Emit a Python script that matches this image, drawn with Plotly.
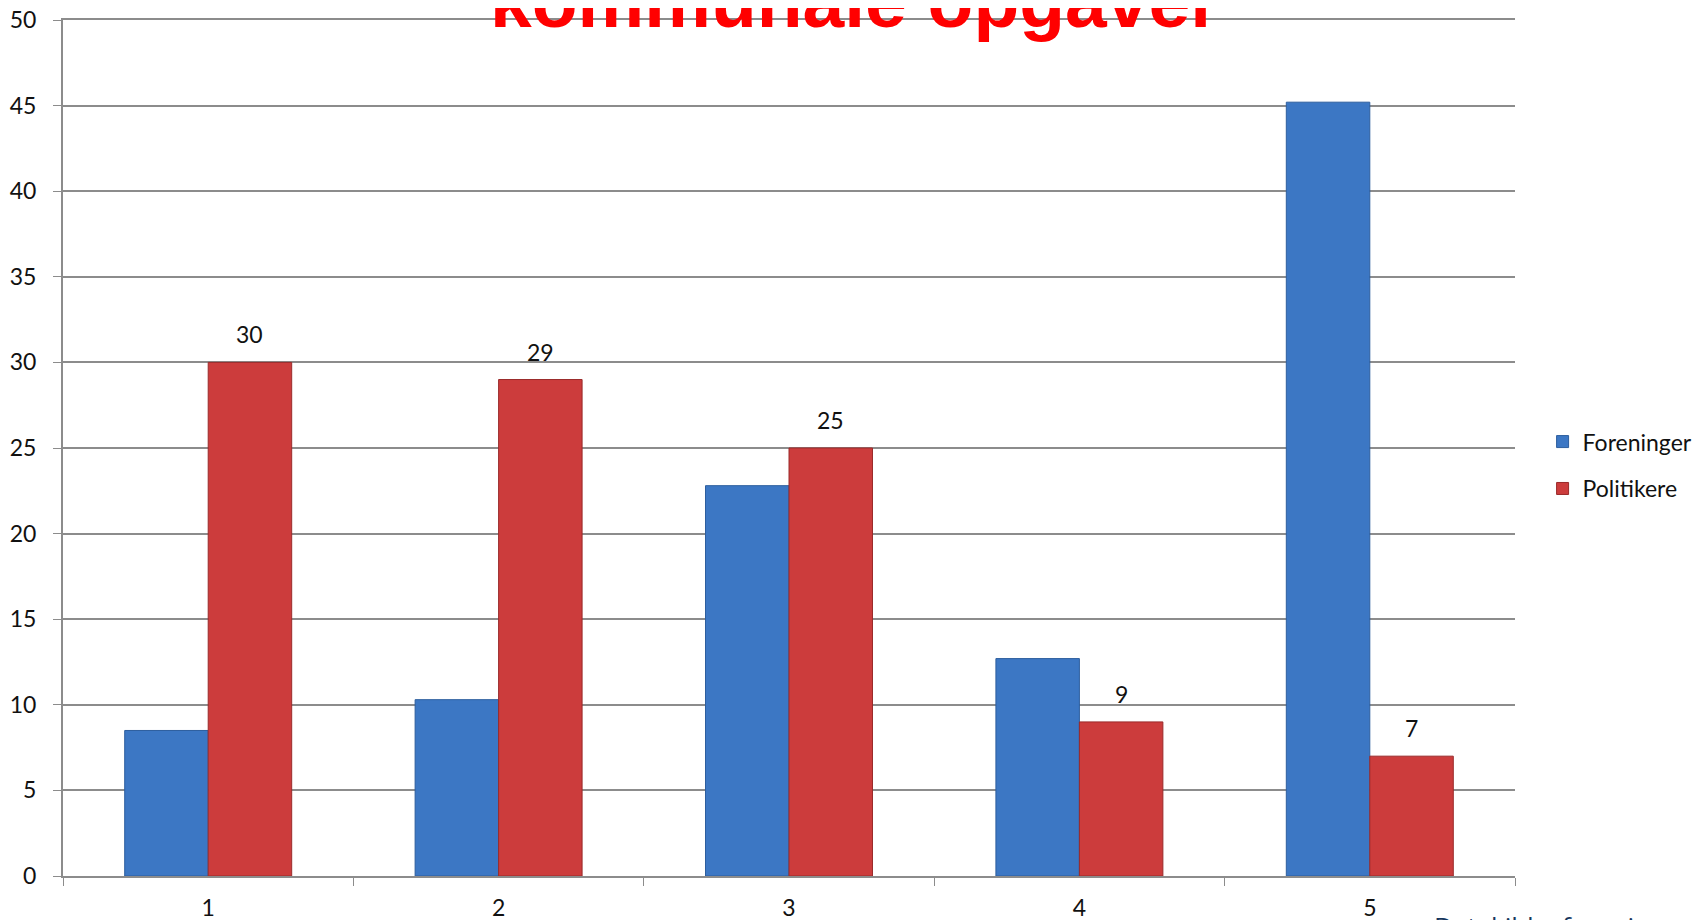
"""Foreninger vs. politikere - kommunale opgaver

Grupperet søjlediagram med datalabels for politikere.
"""

import plotly.graph_objects as go

# data
kategorier = ["1", "2", "3", "4", "5"]
foreninger = [8.5, 10.3, 22.8, 12.7, 45.2]
politikere = [30, 29, 25, 9, 7]
y_ticks = [0, 5, 10, 15, 20, 25, 30, 35, 40, 45, 50]

TITEL = "kommunale opgaver"
KILDE = "Datakilde: foreningsundersøgelse"

TICK_FONT = {"family": "Lato, Open Sans, sans-serif", "size": 23, "color": "#111111"}
GRID = "#8c8c8c"
BARGAP = 0.425

fig = go.Figure()

fig.add_trace(
    go.Bar(
        x=kategorier,
        y=foreninger,
        name="Foreninger",
        marker={"color": "#3c77c4", "line": {"color": "#2d5e9e", "width": 1}},
        legendgroup="f",
    )
)

fig.add_trace(
    go.Bar(
        x=kategorier,
        y=politikere,
        name="Politikere",
        marker={"color": "#cc3c3c", "line": {"color": "#9a2a2a", "width": 1}},
        legendgroup="p",
    )
)

# datalabels over de røde søjler
halv_bredde = (1 - BARGAP) / 4
for i, v in enumerate(politikere):
    fig.add_annotation(
        x=i + halv_bredde,
        y=v,
        xref="x",
        yref="y",
        text=str(v),
        showarrow=False,
        yanchor="bottom",
        yshift=12,
        font=TICK_FONT,
    )

# titel (delvist uden for billedet, som i originalen)
fig.add_annotation(
    x=0.545,
    y=0.971,
    xref="paper",
    yref="paper",
    text=f"<b>{TITEL}</b>",
    showarrow=False,
    xanchor="center",
    yanchor="bottom",
    font={"family": "Liberation Sans, Arial, sans-serif", "size": 75, "color": "#ff0000"},
)

# kildetekst nederst til højre (afskåret)
fig.add_annotation(
    x=0.943,
    y=-0.035,
    xref="paper",
    yref="paper",
    text=KILDE,
    showarrow=False,
    xanchor="left",
    yanchor="top",
    font={"family": "Open Sans, sans-serif", "size": 26, "color": "#17365d"},
)

# siden har 8px body-margin, derfor er l/t trukket 8px ned
fig.update_layout(
    width=1707,
    height=920,
    barmode="group",
    bargap=BARGAP,
    bargroupgap=0,
    plot_bgcolor="white",
    paper_bgcolor="white",
    margin={"l": 55, "r": 200, "t": 12, "b": 52, "autoexpand": False},
    showlegend=True,
    legend={
        "x": 1.019,
        "y": 0.480,
        "xanchor": "left",
        "yanchor": "middle",
        "font": {"family": "Lato, Open Sans, sans-serif", "size": 23, "color": "#111111"},
        "tracegroupgap": 14,
        "itemwidth": 30,
        "bgcolor": "rgba(0,0,0,0)",
    },
)

fig.update_yaxes(
    range=[0, 50],
    tickvals=y_ticks,
    showgrid=True,
    gridcolor=GRID,
    gridwidth=1.5,
    showline=True,
    linecolor=GRID,
    linewidth=2,
    ticks="outside",
    ticklen=8,
    tickcolor=GRID,
    tickfont=TICK_FONT,
    ticklabelstandoff=12,
    ticklabeloverflow="allow",
    zeroline=False,
    automargin=False,
)

# mirror giver den øverste linje ved 50
fig.update_xaxes(
    showline=True,
    mirror=True,
    linecolor=GRID,
    linewidth=2,
    ticks="outside",
    tickson="boundaries",
    ticklen=8,
    tickcolor=GRID,
    tickfont=TICK_FONT,
    ticklabelstandoff=10,
    showgrid=False,
    automargin=False,
)

fig.write_html("out.html")
